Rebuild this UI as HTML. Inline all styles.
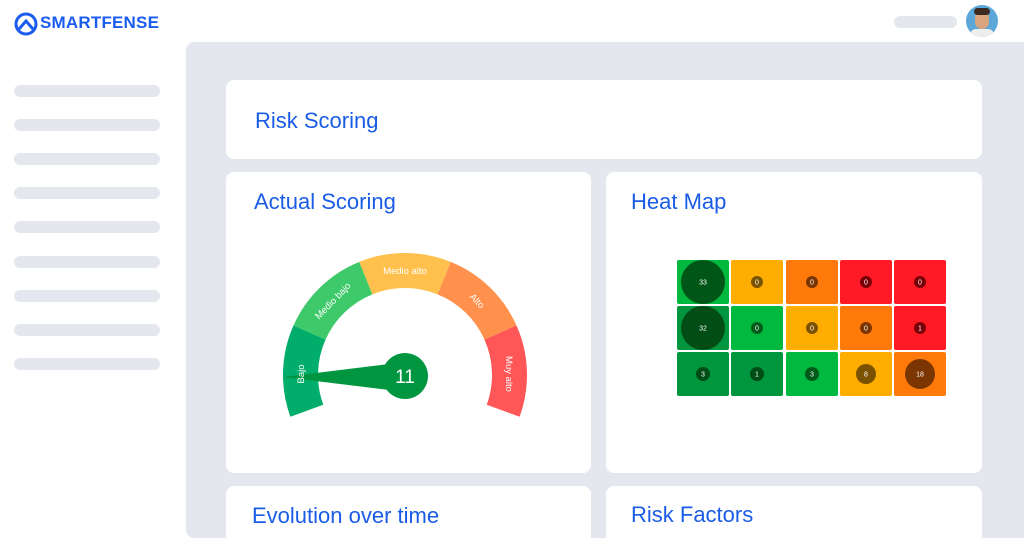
<!DOCTYPE html>
<html style="width:1024px;height:538px;overflow:hidden"><head><meta charset="utf-8"><style>
body{margin:0;width:1024px;height:538px;background:#fff;position:relative;overflow:hidden;font-family:"Liberation Sans",sans-serif}
.a{position:absolute}
.bar{position:absolute;left:14px;width:146px;height:12px;border-radius:6px;background:#e4e7ee}
.card{position:absolute;background:#fff;border-radius:8px}
.t{position:absolute;color:#1a5ce6;font-size:22px}
</style></head><body>
<svg class="a" style="left:14px;top:12px" width="24" height="24" viewBox="0 0 24 24"><circle cx="12" cy="12" r="10" fill="none" stroke="#1b5cf0" stroke-width="3"/><path d="M5 17 L12 9 L19 17" fill="none" stroke="#1b5cf0" stroke-width="3"/></svg>
<div class="a" style="left:40px;top:13px;font-size:17px;font-weight:bold;color:#1b5cf0;letter-spacing:0.2px">SMARTFENSE</div>
<div class="a" style="left:894px;top:16px;width:63px;height:12px;border-radius:6px;background:#e4e7ee"></div>
<div class="a" style="left:966px;top:5px;width:32px;height:32px;border-radius:50%;background:#5aa7d8;overflow:hidden"><div class="a" style="left:9px;top:6px;width:14px;height:18px;border-radius:7px;background:#d9a57f"></div><div class="a" style="left:4px;top:24px;width:24px;height:12px;border-radius:8px;background:#eee"></div><div class="a" style="left:8px;top:3px;width:16px;height:7px;border-radius:6px;background:#3a2a20"></div></div>
<div class="bar" style="top:85px"></div><div class="bar" style="top:119px"></div><div class="bar" style="top:153px"></div><div class="bar" style="top:187px"></div><div class="bar" style="top:221px"></div><div class="bar" style="top:256px"></div><div class="bar" style="top:290px"></div><div class="bar" style="top:324px"></div><div class="bar" style="top:358px"></div>
<div class="a" style="left:186px;top:42px;width:838px;height:496px;background:#e4e7ee;border-radius:8px 0 0 8px"></div>
<div class="card" style="left:226px;top:80px;width:756px;height:79px"></div>
<div class="t" style="left:255px;top:108px">Risk Scoring</div>
<div class="card" style="left:226px;top:172px;width:365px;height:301px"></div>
<div class="t" style="left:254px;top:189px">Actual Scoring</div>
<div class="card" style="left:606px;top:172px;width:376px;height:301px"></div>
<div class="t" style="left:631px;top:189px">Heat Map</div>
<div class="card" style="left:226px;top:486px;width:365px;height:52px;border-radius:8px 8px 0 0"></div>
<div class="t" style="left:252px;top:503px">Evolution over time</div>
<div class="card" style="left:606px;top:486px;width:376px;height:52px;border-radius:8px 8px 0 0"></div>
<div class="t" style="left:631px;top:502px">Risk Factors</div>
<svg class="a" style="left:0;top:0" width="1024" height="538">
<g id="g"></g>
<polygon points="283,377 405,362 405,392" fill="#009640"/>
<circle cx="405" cy="376" r="23" fill="#009640"/>
<text x="405" y="383" fill="#fff" font-size="19" text-anchor="middle" font-family="Liberation Sans">11</text>
<g fill="#fff" font-size="9.5" font-family="Liberation Sans" text-anchor="middle">
<text transform="translate(301,374) rotate(-90)" dy="3">Bajo</text>
<text transform="translate(333,301) rotate(-46)" dy="3">Medio bajo</text>
<text transform="translate(405,271) rotate(0)" dy="3">Medio alto</text>
<text transform="translate(477,301) rotate(46)" dy="3">Alto</text>
<text transform="translate(509,374) rotate(90)" dy="3">Muy alto</text>
</g>
<g font-size="7" fill="#fff" text-anchor="middle" font-family="Liberation Sans" id="hm"></g>
</svg>
<script>
var g=document.getElementById('g'),cx=405,cy=375,R=122,r=87,cols=['#00ad6a','#3ec96a','#ffc04d','#ff914d','#ff5757'];
function p(a,rr){a=a*Math.PI/180;return [cx+rr*Math.cos(a),cy-rr*Math.sin(a)]}
for(var i=0;i<5;i++){var a1=200-44*i,a2=a1-44,o1=p(a1,R),o2=p(a2,R),i1=p(a2,r),i2=p(a1,r);
g.innerHTML+='<path d="M'+o1+' A'+R+' '+R+' 0 0 1 '+o2+' L'+i1+' A'+r+' '+r+' 0 0 0 '+i2+'Z" fill="'+cols[i]+'"/>';}
var hm=document.getElementById('hm'),X=[677,731,786,840,894],Y=[260,306,352];
var C=[['#00b93e','#ffad00','#ff7a0a','#ff1a26','#ff1a26'],['#00963d','#00b93e','#ffad00','#ff7a0a','#ff1a26'],['#00963d','#00963d','#00b93e','#ffad00','#ff7a0a']];
var D=[['#005616','#7a5200','#7a3500','#7a0008','#7a0008'],['#004d16','#005a1a','#7a5200','#7a3500','#7a0008'],['#004d16','#004d16','#005a1a','#7a5200','#7a3500']];
var V=[[33,0,0,0,0],[32,0,0,0,1],[3,1,3,8,18]],Rr=[[22,6,6,6,6],[22,6,6,6,6],[7,7,7,10,15]];
var s='';for(var y=0;y<3;y++)for(var x=0;x<5;x++){s+='<rect x="'+X[x]+'" y="'+Y[y]+'" width="52" height="44" rx="2" fill="'+C[y][x]+'"/><circle cx="'+(X[x]+26)+'" cy="'+(Y[y]+22)+'" r="'+Rr[y][x]+'" fill="'+D[y][x]+'"/><text x="'+(X[x]+26)+'" y="'+(Y[y]+24.5)+'">'+V[y][x]+'</text>';}
hm.innerHTML=s;
</script>
</body></html>
